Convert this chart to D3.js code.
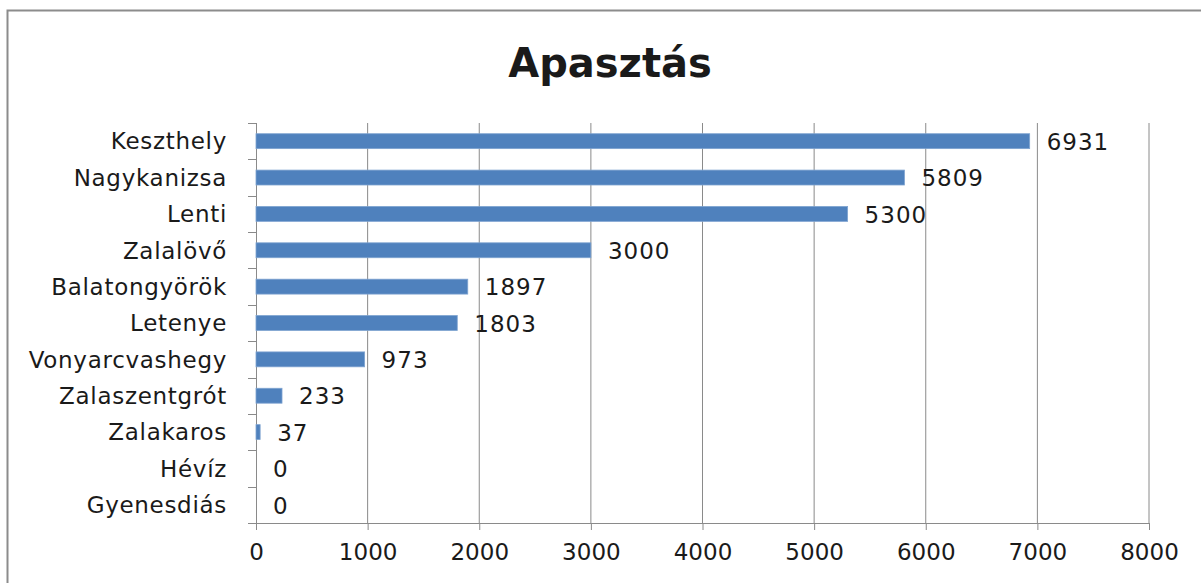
<!DOCTYPE html>
<html>
<head>
<meta charset="utf-8">
<script src="https://cdn.jsdelivr.net/npm/d3@7"></script>
<style>
  body { margin: 0; background: #fff; }
  text { font-family: "DejaVu Sans", "Open Sans", sans-serif; fill: #1a1a1a; }
</style>
</head>
<body>
<div id="chart"></div>
<script>
// chart data
var categories = ["Keszthely", "Nagykanizsa", "Lenti", "Zalalövő", "Balatongyörök", "Letenye",
  "Vonyarcvashegy", "Zalaszentgrót", "Zalakaros", "Hévíz", "Gyenesdiás"];
var values = [6931, 5809, 5300, 3000, 1897, 1803, 973, 233, 37, 0, 0];
var xTicks = [0, 1000, 2000, 3000, 4000, 5000, 6000, 7000, 8000];
var title = "Apasztás";

var svgWidth = 1201;
var svgHeight = 583;

var margin = { top: 123, right: 52, bottom: 60, left: 256 };
var width = 1149 - margin.left;
var height = 523 - margin.top;

var svg = d3.select("#chart")
  .append("svg")
  .attr("width", svgWidth)
  .attr("height", svgHeight);

// outer frame (right & bottom edges fall outside the picture)
svg.append("rect")
  .attr("x", 7.5)
  .attr("y", 10.5)
  .attr("width", 1220)
  .attr("height", 600)
  .attr("fill", "none")
  .attr("stroke", "#8c8c8c")
  .attr("stroke-width", 2);

svg.append("text")
  .attr("x", 610)
  .attr("y", 77)
  .attr("text-anchor", "middle")
  .attr("font-size", "40px")
  .attr("font-weight", "bold")
  .attr("fill", "#000")
  .text(title);

var chart = svg.append("g")
  .attr("transform", `translate(${margin.left}, ${margin.top})`);

var xScale = d3.scaleLinear()
  .domain([0, 8000])
  .range([0, width]);

var yScale = d3.scaleBand()
  .domain(categories)
  .range([0, height])
  .paddingInner(0.59)
  .paddingOuter(0.295);

// gridlines
chart.append("g")
  .selectAll("line")
  .data(xTicks.slice(1))
  .enter()
  .append("line")
  .attr("x1", d => xScale(d))
  .attr("x2", d => xScale(d))
  .attr("y1", 0)
  .attr("y2", height)
  .attr("stroke", "#8a8a8a")
  .attr("stroke-width", 1);

// bottom axis
var bottomAxis = d3.axisBottom(xScale)
  .tickValues(xTicks)
  .tickSize(7)
  .tickPadding(14)
  .tickFormat(d3.format("d"));

var xAxisG = chart.append("g")
  .attr("transform", `translate(0, ${height})`)
  .call(bottomAxis);
xAxisG.select(".domain").attr("stroke", "#8a8a8a").attr("d", `M-8,0.5H${width}`);
xAxisG.selectAll(".tick line").attr("stroke", "#8a8a8a");
xAxisG.selectAll("text")
  .attr("font-size", "23px")
  .attr("fill", "#1a1a1a")
  .style("font-family", "'DejaVu Sans', sans-serif");

// left axis: ticks between categories
var step = yScale.step();
var catTicks = d3.range(categories.length + 1).map(i => yScale(categories[0]) - yScale.paddingOuter() * step + i * step);
var yAxisG = chart.append("g");
yAxisG.append("line")
  .attr("x1", 0.5).attr("x2", 0.5)
  .attr("y1", 0).attr("y2", height)
  .attr("stroke", "#8a8a8a");
yAxisG.selectAll("line.cat")
  .data(catTicks)
  .enter()
  .append("line")
  .attr("class", "cat")
  .attr("x1", -8).attr("x2", 0)
  .attr("y1", d => Math.round(d) + 0.5)
  .attr("y2", d => Math.round(d) + 0.5)
  .attr("stroke", "#8a8a8a");

yAxisG.selectAll("text")
  .data(categories)
  .enter()
  .append("text")
  .attr("x", -29)
  .attr("y", d => yScale(d) + yScale.bandwidth() / 2)
  .attr("dy", "0.36em")
  .attr("text-anchor", "end")
  .attr("font-size", "23px")
  .attr("letter-spacing", "0.7px")
  .text(d => d);

// bars
var rows = categories.map((c, i) => ({ cat: c, val: values[i] }));

chart.selectAll("rect.bar")
  .data(rows)
  .enter()
  .append("rect")
  .attr("class", "bar")
  .attr("x", 0)
  .attr("y", d => yScale(d.cat))
  .attr("width", d => xScale(d.val))
  .attr("height", yScale.bandwidth())
  .attr("fill", "#4f81bd")
  .attr("stroke", "#7ea3d0")
  .attr("stroke-width", d => d.val > 0 ? 0.8 : 0);

// value labels
chart.selectAll("text.val")
  .data(rows)
  .enter()
  .append("text")
  .attr("class", "val")
  .attr("x", d => xScale(d.val) + 17)
  .attr("y", d => yScale(d.cat) + yScale.bandwidth() / 2)
  .attr("dy", "0.38em")
  .attr("font-size", "23px")
  .attr("letter-spacing", "1px")
  .text(d => d.val);
</script>
</body>
</html>
